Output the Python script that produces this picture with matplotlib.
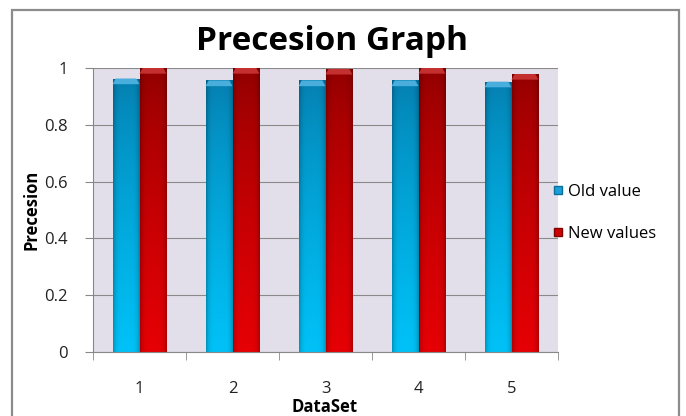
import numpy as np
import matplotlib

matplotlib.use("Agg")
import matplotlib.pyplot as plt
from matplotlib.patches import Rectangle, Polygon
from matplotlib.lines import Line2D

plt.rcParams["font.family"] = ["Open Sans", "DejaVu Sans"]

datasets = ["1", "2", "3", "4", "5"]
old_value = [0.963, 0.956, 0.956, 0.956, 0.952]
new_values = [1.0, 1.0, 0.997, 1.0, 0.979]
series_names = ["Old value", "New values"]
y_ticks = [0, 0.2, 0.4, 0.6, 0.8, 1]


def shade(top, bottom, n=64, m=24):
    """Vertical gradient with a soft darker rim on the sides."""
    t = np.linspace(0, 1, n)[:, None, None] ** 0.7
    col = np.array(top)[None, None, :] * (1 - t) + np.array(bottom)[None, None, :] * t
    u = np.linspace(-1, 1, m)[None, :, None]
    rim = 1 - 0.22 * np.abs(u) ** 5
    return np.clip(col * rim, 0, 1)


def gradient_bar(ax, x0, width, height, top, bottom, cap):
    img = shade(top, bottom)
    im = ax.imshow(img, extent=(x0, x0 + width, 0, 1), aspect="auto",
                   origin="upper", zorder=2, interpolation="bilinear")
    im.set_clip_path(Rectangle((x0, 0), width, height, transform=ax.transData))
    ch = 0.02
    inset = width * 0.12
    ax.add_patch(Polygon([(x0, height - ch), (x0 + inset, height),
                          (x0 + width - inset, height), (x0 + width, height - ch)],
                         closed=True, facecolor=cap, edgecolor="none", zorder=3))


fig = plt.figure(figsize=(6.86, 4.16), dpi=100)
ax = fig.add_axes([93 / 686, 1 - 352 / 416, (558 - 93) / 686, (352 - 68) / 416])
ax.set_facecolor("#e2dfea")

x = np.arange(1, len(datasets) + 1)
w = 0.29
blue_top, blue_bot = (0.02, 0.47, 0.66), (0.0, 0.76, 0.97)
red_top, red_bot = (0.56, 0.0, 0.0), (0.90, 0.0, 0.02)
for xi, ov, nv in zip(x, old_value, new_values):
    gradient_bar(ax, xi - w, w, ov, blue_top, blue_bot, "#4aaedc")
    gradient_bar(ax, xi, w, nv, red_top, red_bot, "#c43030")

ax.set_xlim(0.5, len(datasets) + 0.5)
ax.set_ylim(0, 1)
ax.set_yticks(y_ticks)
ax.set_yticklabels(["0", "0.2", "0.4", "0.6", "0.8", "1"])
ax.yaxis.grid(True, color="#8a8a8a", linewidth=0.8)
ax.set_axisbelow(True)

ax.set_xticks(x)
ax.set_xticklabels(datasets)
ax.set_xticks(np.arange(0.5, len(datasets) + 1), minor=True)
ax.tick_params(axis="x", which="major", length=0, pad=21, labelsize=12, colors="#222222")
ax.tick_params(axis="x", which="minor", length=6, color="#888888", direction="out")
ax.tick_params(axis="y", length=6, color="#888888", pad=12, labelsize=12, labelcolor="#222222")

for side in ("top", "right"):
    ax.spines[side].set_visible(False)
for side in ("left", "bottom"):
    ax.spines[side].set_color("#888888")

fig.text(325 / 686, 1 - 407 / 416, "DataSet", fontsize=12, fontweight="bold",
         ha="center", va="center")
fig.text(31 / 686, 1 - 210 / 416, "Precesion", fontsize=12, fontweight="bold",
         ha="center", va="center", rotation=90)
fig.text(332 / 686, 1 - 41 / 416, "Precesion Graph", fontsize=24, fontweight="bold",
         ha="center", va="center")

handles = [Line2D([], [], marker="s", linestyle="none", markersize=6,
                  markerfacecolor="#1a9fd8", markeredgecolor="#0a6e9a"),
           Line2D([], [], marker="s", linestyle="none", markersize=6,
                  markerfacecolor="#cc0000", markeredgecolor="#800000")]
fig.legend(handles, series_names, loc="center left",
           bbox_to_anchor=(536 / 686, 1 - 213 / 416), frameon=False, fontsize=12,
           handlelength=0.8, handletextpad=0.2, labelspacing=1.6)

fig.add_artist(Rectangle((12 / 686, -0.1), (679 - 12) / 686, 1.1 - 10 / 416,
                         transform=fig.transFigure, fill=False,
                         edgecolor="#8c8c8c", linewidth=1.6))

fig.savefig("out.png", dpi=100)
